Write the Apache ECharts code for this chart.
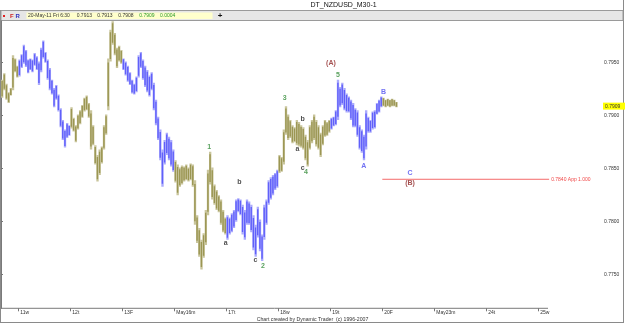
<!DOCTYPE html>
<html><head><meta charset="utf-8">
<script src="https://cdn.jsdelivr.net/npm/echarts@6/dist/echarts.min.js"></script>
<style>html,body{margin:0;padding:0;background:#fff}#c{width:625px;height:324px}</style>
</head><body><div id="c"></div>
<script>
// Hourly bars (first 8 bars belong to 10-May, then one trading day = 24 bars)
const highs = [
.7934,.7940,.7930,.7922,.7926,.7957,.7954,.7947,
.7953,.7958,.7967,.7962,.7953,.7954,.7953,.7959,.7956,.7951,.7964,.7971,.7960,.7953,.7945,.7934,.7926,.7929,.7920,.7907,.7896,.7887,.7893,.7891,
.7908,.7898,.7891,.7901,.7905,.7910,.7917,.7919,.7912,.7905,.7891,.7872,.7863,.7868,.7871,.7891,.7901,.7954,.7981,.7989,.7978,.7964,.7966,.7962,
.7954,.7951,.7947,.7941,.7934,.7930,.7937,.7957,.7960,.7953,.7947,.7943,.7938,.7941,.7931,.7915,.7899,.7887,.7868,.7877,.7884,.7880,.7877,.7868,
.7858,.7854,.7851,.7853,.7852,.7854,.7851,.7855,.7854,.7839,.7806,.7794,.7783,.7789,.7811,.7849,.7866,.7851,.7835,.7830,.7825,.7821,.7811,.7804,
.7806,.7804,.7808,.7811,.7821,.7822,.7821,.7816,.7811,.7821,.7819,.7816,.7806,.7797,.7814,.7802,.7788,.7816,.7821,.7839,.7842,.7844,.7846,.7849,
.7863,.7861,.7887,.7909,.7901,.7896,.7891,.7889,.7896,.7894,.7891,.7889,.7882,.7877,.7891,.7896,.7901,.7896,.7891,.7884,.7891,.7896,.7894,.7896,
.7898,.7899,.7905,.7934,.7927,.7931,.7926,.7921,.7918,.7915,.7912,.7907,.7905,.7891,.7887,.7882,.7905,.7899,.7896,.7904,.7905,.7912,.7915,.7918,
.7917,.7915,.7916,.7915,.7916,.7915,.7913];
const lows = [
.7917,.7924,.7915,.7912,.7919,.7924,.7941,.7936,
.7937,.7945,.7949,.7946,.7940,.7943,.7941,.7947,.7943,.7929,.7941,.7954,.7950,.7934,.7924,.7920,.7908,.7915,.7904,.7889,.7877,.7870,.7879,.7881,
.7888,.7885,.7875,.7887,.7892,.7898,.7904,.7905,.7898,.7868,.7872,.7854,.7838,.7844,.7855,.7868,.7882,.7905,.7951,.7967,.7957,.7945,.7951,.7949,
.7943,.7938,.7932,.7929,.7921,.7920,.7922,.7936,.7945,.7934,.7927,.7922,.7918,.7924,.7905,.7891,.7877,.7858,.7833,.7854,.7863,.7858,.7852,.7847,
.7837,.7825,.7833,.7835,.7838,.7839,.7838,.7839,.7833,.7797,.7780,.7767,.7755,.7766,.7778,.7806,.7835,.7821,.7816,.7811,.7809,.7797,.7790,.7788,
.7783,.7788,.7790,.7794,.7800,.7809,.7806,.7788,.7783,.7797,.7797,.7790,.7773,.7767,.7785,.7772,.7763,.7783,.7797,.7816,.7821,.7825,.7830,.7832,
.7846,.7847,.7854,.7882,.7877,.7879,.7874,.7875,.7872,.7871,.7870,.7868,.7858,.7852,.7868,.7874,.7877,.7871,.7868,.7861,.7872,.7880,.7881,.7884,
.7887,.7890,.7891,.7896,.7908,.7910,.7905,.7903,.7903,.7896,.7889,.7889,.7880,.7868,.7865,.7858,.7868,.7884,.7884,.7887,.7888,.7901,.7903,.7908,
.7909,.7908,.7909,.7908,.7909,.7909,.7908];
const barsBeforeFirstDay = 8;
const barsPerDay = 24;
const dayLabels = ['11w','12t','13F','May16m','17t','18w','19t','20F','May23m','24t','25w'];
const yTicks = [0.7750, 0.7800, 0.7850, 0.7900, 0.7950];
const lastClose = 0.7909;
const infoDate = '20-May-11 Fri 6:30';
const infoValues = ['0.7913','0.7913','0.7908','0.7909','0.0004'];
const projLevel = 0.7840, projFromBar = 176, projToBar = 253, projText = '0.7840 App 1.000';
const waveText = ['1','b','a','c','2','3','b','a','c','4','(A)','5','B','A','C','(B)'];
const waveBar  = [96.1,110.0,103.7,117.4,120.9,130.9,139.2,136.8,139.2,140.8,152.3,155.5,176.6,167.5,188.8,188.8];
const wavePrice= [0.78708,0.78377,0.77796,0.77636,0.77582,0.79164,0.78966,0.78683,0.78504,0.78469,0.7950,0.79381,0.79226,0.78528,0.78457,0.78362];

const OLIVE = ['#9b9653', '#c9c59c'], BLUE = ['#6060fa', '#ababfc'];
const FONT = '"Liberation Sans", Arial, sans-serif';
const bars = highs.map((h, i) => {
  const day = Math.floor((i - barsBeforeFirstDay) / barsPerDay) + 1;
  return { value: [i + 0.5, lows[i], h, day % 2] };
});
function waveColor(t) {
  if (t.startsWith('(')) return '#8f2525';
  if (/^[0-9]$/.test(t)) return '#2f8a35';
  if (/^[a-z]$/.test(t)) return '#222222';
  return '#4d4df0';
}
const waves = waveText.map((t, i) => ({
  name: t, value: [waveBar[i], wavePrice[i]],
  label: { color: waveColor(t) }
}));
const tickVals = dayLabels.map((_, k) => barsBeforeFirstDay + k * barsPerDay);

const chart = echarts.init(document.getElementById('c'), null, { renderer: 'canvas' });
const txt = (x, y, text, fill, size, weight, align) => ({
  type: 'text', x: x, y: y, silent: true, z: 100,
  style: { text: text, fill: fill, font: (weight || 'normal') + ' ' + size + 'px ' + FONT, align: align || 'left', verticalAlign: 'middle' }
});
chart.setOption({
  animation: false,
  backgroundColor: '#ffffff',
  grid: { left: 1, right: 23, top: 21, bottom: 15.7 },
  xAxis: {
    type: 'value', min: 0, max: 277.4,
    axisLine: { show: false },
    splitLine: { show: false },
    axisTick: { show: true, length: 3, customValues: tickVals, lineStyle: { color: '#777' } },
    axisLabel: { customValues: tickVals, fontSize: 5, fontFamily: FONT, color: '#333', align: 'left', margin: 2, padding: [0,0,0,2],
      formatter: v => dayLabels[Math.round((v - barsBeforeFirstDay) / barsPerDay)] || '' }
  },
  yAxis: {
    type: 'value', position: 'right', min: 0.77183, max: 0.79893, scale: true,
    axisLine: { show: true, lineStyle: { color: '#7a7a7a' } },
    splitLine: { show: false },
    axisTick: { show: true, length: 2, customValues: yTicks, lineStyle: { color: '#777' } },
    axisLabel: { customValues: yTicks, fontSize: 5, fontFamily: FONT, color: '#333', margin: 2, formatter: v => v.toFixed(4) }
  },
  series: [
    {
      type: 'custom', data: bars, clip: true,
      renderItem: function (params, api) {
        const x = api.value(0), lo = api.value(1), hi = api.value(2);
        const pal = api.value(3) ? BLUE : OLIVE;
        const p1 = api.coord([x, hi]), p2 = api.coord([x, lo]);
        const w = api.size([1, 0])[0];
        const h = Math.max(1, p2[1] - p1[1]);
        return { type: 'group', children: [
          { type: 'rect', shape: { x: p1[0] - w / 2, y: p1[1], width: w + 0.2, height: h }, style: { fill: pal[1] } },
          { type: 'rect', shape: { x: p1[0] - 0.7, y: p1[1] + h * 0.08, width: 1.4, height: h * 0.84 }, style: { fill: pal[0] } }
        ] };
      }
    },
    {
      type: 'line', silent: true, symbol: 'none', z: 5,
      data: [[projFromBar, projLevel], [projToBar, projLevel]],
      lineStyle: { color: '#f46a6a', width: 1 },
      itemStyle: { color: '#f46a6a' },
      endLabel: { show: true, formatter: projText, color: '#f04848', fontSize: 5, fontFamily: FONT, distance: 2 }
    },
    {
      type: 'line', data: [], silent: true,
      markLine: {
        silent: true, symbol: ['none', 'none'], animation: false, precision: 4,
        lineStyle: { color: 'rgba(0,0,0,0)', width: 1 },
        label: { show: true, position: 'end', formatter: lastClose.toFixed(4), color: '#333', fontSize: 5, fontFamily: FONT,
          backgroundColor: '#ffff00', padding: [1, 8, 1, 2], distance: 1 },
        data: [ { yAxis: lastClose } ]
      }
    },
    {
      type: 'scatter', data: waves, symbolSize: 0, itemStyle: { color: 'rgba(0,0,0,0)' }, z: 10,
      label: { show: true, position: 'inside', formatter: p => p.name, fontSize: 7, fontWeight: 'bold', fontFamily: FONT }
    }
  ],
  graphic: [
    { type: 'line', shape: { x1: 0.5, y1: 10, x2: 0.5, y2: 323 }, style: { stroke: '#8a8a8a', lineWidth: 1 }, silent: true },
    { type: 'line', shape: { x1: 623.5, y1: 0, x2: 623.5, y2: 323 }, style: { stroke: '#8a8a8a', lineWidth: 1 }, silent: true },
    { type: 'line', shape: { x1: 0, y1: 322.5, x2: 624, y2: 322.5 }, style: { stroke: '#8a8a8a', lineWidth: 1 }, silent: true },
    { type: 'rect', shape: { x: 1, y: 10.5, width: 622, height: 10 }, style: { fill: '#e6e6e6', stroke: '#9a9a9a', lineWidth: 1 }, silent: true },
    { type: 'line', shape: { x1: 1, y1: 308.3, x2: 548, y2: 308.3 }, style: { stroke: '#7a7a7a', lineWidth: 1 }, silent: true },
    { type: 'rect', shape: { x: 3, y: 15, width: 2, height: 2 }, style: { fill: '#e02020' }, silent: true },
    { type: 'rect', shape: { x: 26.5, y: 12.5, width: 186, height: 6.5 }, style: { fill: '#ffffcc' }, silent: true },
    txt(310.5, 5.5, 'DT_NZDUSD_M30-1', '#111', 7),
    txt(10, 16, 'F', '#d02020', 6, 'bold'),
    txt(15.5, 16, 'R', '#3030c0', 6, 'bold'),
    txt(28, 16, infoDate, '#333', 5),
    txt(76.7, 16, infoValues[0], '#333', 5),
    txt(97.3, 16, infoValues[1], '#333', 5),
    txt(118.3, 16, infoValues[2], '#333', 5),
    txt(139.3, 16, infoValues[3], '#2a9a2a', 5),
    txt(160, 16, infoValues[4], '#2a9a2a', 5),
    txt(220, 15.5, '+', '#111', 8, 'bold', 'center'),
    txt(312.5, 319.5, 'Chart created by Dynamic Trader  (c) 1996-2007', '#333', 5.2, 'normal', 'center')
  ]
});
</script></body></html>
